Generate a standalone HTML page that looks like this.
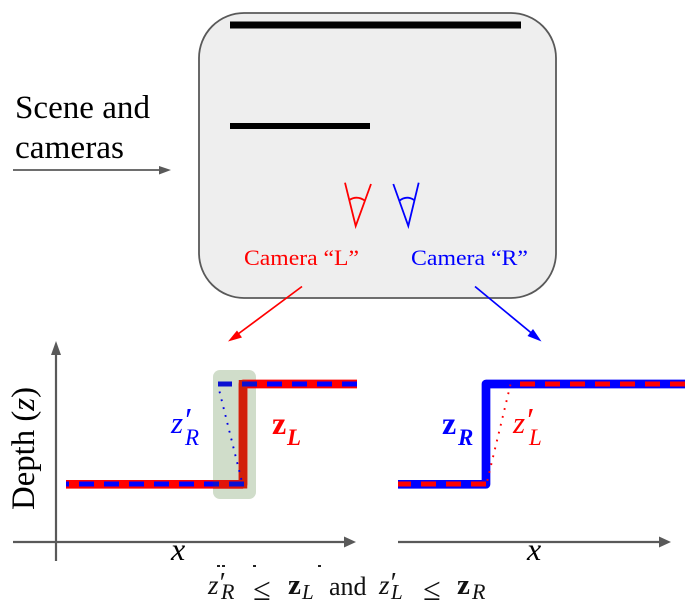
<!DOCTYPE html>
<html>
<head>
<meta charset="utf-8">
<style>
html,body{margin:0;padding:0;background:#fff;width:690px;height:609px;overflow:hidden}
svg{display:block}
text{font-family:"Liberation Serif",serif}
.i{font-style:italic}
.b{font-weight:bold}
</style>
</head>
<body>
<svg width="690" height="609" viewBox="0 0 690 609" xmlns="http://www.w3.org/2000/svg">
<!-- scene box -->
<rect x="199" y="13" width="357" height="285" rx="45" ry="45" fill="#eeeeee" stroke="#595959" stroke-width="1.8"/>
<rect x="230" y="21.500" width="291" height="7" fill="#000"/>
<rect x="230" y="123" width="140" height="6" fill="#000"/>
<!-- cameras -->
<g fill="none" stroke-width="1.800" stroke="#ff0000">
<path d="M345 182.700L355.700 226L371 184"/>
<path d="M349.300 200Q357 195 365 200.700"/>
</g>
<g fill="none" stroke-width="1.800" stroke="#0000ff">
<path d="M393.300 184L408.300 226L418.700 182.700"/>
<path d="M399 201Q406.500 195 414 200"/>
</g>
<text x="244" y="265" font-size="22.500" fill="#ff0000" textLength="115" lengthAdjust="spacingAndGlyphs">Camera “L”</text>
<text x="411" y="265" font-size="22.500" fill="#0000ff" textLength="117" lengthAdjust="spacingAndGlyphs">Camera “R”</text>
<!-- scene label -->
<text x="15" y="118" font-size="33" fill="#000" textLength="135" lengthAdjust="spacingAndGlyphs">Scene and</text>
<text x="15" y="158" font-size="33" fill="#000" textLength="109" lengthAdjust="spacingAndGlyphs">cameras</text>
<path d="M13 170H161" stroke="#595959" stroke-width="1.800"/>
<path d="M159 166L171 170L159 174.500Z" fill="#595959"/>
<!-- camera arrows -->
<path d="M302 286.500L234 337" stroke="#ff0000" stroke-width="1.700"/>
<path d="M228 341.500L237 330.500L242 337.500Z" fill="#ff0000"/>
<path d="M475 286.500L535 336" stroke="#0000ff" stroke-width="1.700"/>
<path d="M541.500 341.500L527.500 336L533 329Z" fill="#0000ff"/>

<!-- left chart -->
<rect x="213" y="370" width="43" height="129" rx="7" ry="7" fill="#d0ddca"/>
<path d="M56 561V352" stroke="#595959" stroke-width="2.200"/>
<path d="M51 355L56 341L61 355Z" fill="#595959"/>
<path d="M13 542H346" stroke="#595959" stroke-width="2.200"/>
<path d="M344 536.500L356 542L344 547.500Z" fill="#595959"/>
<path d="M66 484.300H243V384H357" fill="none" stroke="#ff0000" stroke-width="8.700" stroke-linejoin="round"/>
<path d="M243 380V488.500" stroke="#d21f0a" stroke-width="8.500"/>
<path d="M213 484.300H243" stroke="#e0140a" stroke-width="8.700"/>
<g stroke="#0000ff" stroke-width="5" fill="none">
<path d="M66 484H69M79 484H94M104 484H119M129 484H144M154 484H169M179 484H194M204 484H213"/>
<path d="M257 384H257M267 384H282M292 384H307M317 384H332M342 384H357"/>
</g>
<g stroke="#0a10d2" stroke-width="5" fill="none">
<path d="M213 484H219M229 484H244"/>
<path d="M218 384H232M242 384H257"/>
</g>
<path d="M219.500 391.500L242 482" stroke="#0000e6" stroke-width="1.900" stroke-dasharray="1.800 6.300" fill="none"/>
<text x="171" y="433" font-size="31" class="i" fill="#0000ff">z</text>
<text x="183" y="431" font-size="34" class="i" fill="#0000ff">′</text>
<text x="185" y="445" font-size="23" class="i" fill="#0000ff">R</text>
<text x="272" y="434" font-size="32" class="b" fill="#ff0000">z</text>
<text x="287" y="445" font-size="23" class="b i" fill="#ff0000">L</text>
<text transform="translate(34 510) rotate(-90)" font-size="33" fill="#000" textLength="123" lengthAdjust="spacingAndGlyphs">Depth (<tspan class="i">z</tspan>)</text>

<!-- right chart -->
<path d="M398 484.300H486V384H685" fill="none" stroke="#0000ff" stroke-width="8.700" stroke-linejoin="round"/>
<g stroke="#ff0000" stroke-width="5" fill="none">
<path d="M398 484H411M421 484H436M446 484H461M471 484H486"/>
<path d="M520 384H535M545 384H560M570 384H585M595 384H610M620 384H635M645 384H660M670 384H685"/>
</g>
<path d="M510.500 384.500L487 482" stroke="#ff0000" stroke-width="1.900" stroke-dasharray="1.800 6.300" fill="none"/>
<path d="M398 542H661" stroke="#595959" stroke-width="2.200"/>
<path d="M659 536.500L671 542L659 547.500Z" fill="#595959"/>
<text x="442" y="434" font-size="32" class="b" fill="#0000ff">z</text>
<text x="458" y="445" font-size="23" class="b i" fill="#0000ff">R</text>
<text x="513" y="433" font-size="31" class="i" fill="#ff0000">z</text>
<text x="525" y="431" font-size="34" class="i" fill="#ff0000">′</text>
<text x="529" y="445" font-size="23" class="i" fill="#ff0000">L</text>

<!-- x labels -->
<text x="171" y="560" font-size="32" class="i" fill="#000">x</text>
<text x="527" y="560" font-size="32" class="i" fill="#000">x</text>

<!-- clipped remnants -->
<rect x="217" y="565" width="3" height="2" fill="#222"/>
<rect x="222" y="565" width="3" height="2" fill="#222"/>
<rect x="253" y="565" width="3" height="2" fill="#222"/>
<rect x="318" y="565" width="3" height="2" fill="#222"/>

<!-- formula -->
<g fill="#111">
<text x="208" y="594" font-size="27" class="i">z</text>
<text x="218" y="592" font-size="28" class="i">′</text>
<text x="221" y="599" font-size="22" class="i">R</text>
<text x="253" y="600" font-size="32">≤</text>
<text x="288" y="594" font-size="29" class="b">z</text>
<text x="302" y="599" font-size="21" class="i">L</text>
<text x="329" y="595" font-size="26">and</text>
<text x="379" y="594" font-size="27" class="i">z</text>
<text x="389" y="592" font-size="28" class="i">′</text>
<text x="391" y="599" font-size="21" class="i">L</text>
<text x="423" y="600" font-size="32">≤</text>
<text x="457" y="594" font-size="29" class="b">z</text>
<text x="472" y="599" font-size="22" class="i">R</text>
</g>
</svg>
</body>
</html>
